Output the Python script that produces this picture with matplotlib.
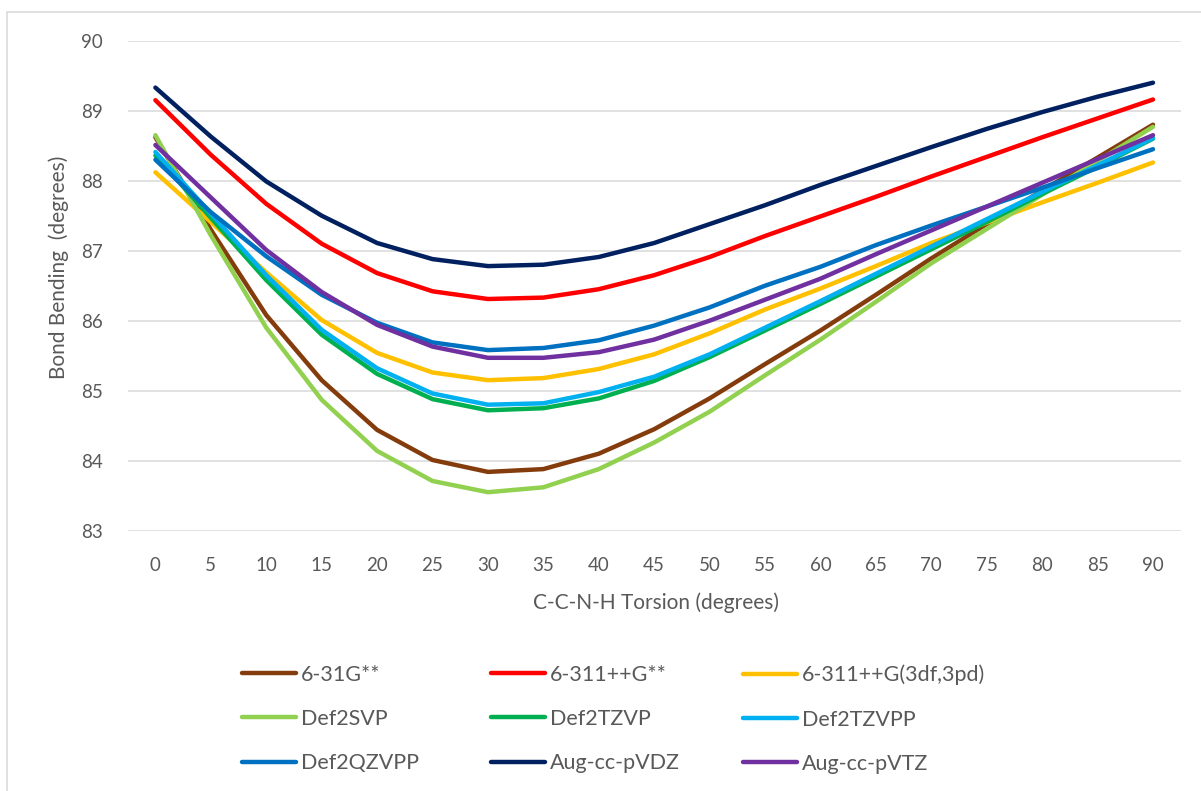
import matplotlib
matplotlib.use("Agg")
import matplotlib.pyplot as plt
from matplotlib.lines import Line2D
from matplotlib.patches import Rectangle

# Torsion angle (degrees) and bond bending angle (degrees) for each basis set
torsion = [0, 5, 10, 15, 20, 25, 30, 35, 40, 45, 50, 55, 60, 65, 70, 75, 80, 85, 90]

b_631g = [88.62, 87.30, 86.08, 85.15, 84.44, 84.01, 83.84, 83.88, 84.10, 84.45,
          84.89, 85.38, 85.86, 86.37, 86.89, 87.38, 87.86, 88.33, 88.80]
b_6311g = [89.15, 88.37, 87.67, 87.10, 86.68, 86.42, 86.31, 86.33, 86.45, 86.65,
           86.91, 87.21, 87.49, 87.77, 88.06, 88.34, 88.62, 88.89, 89.16]
b_6311g_3df = [88.12, 87.41, 86.69, 86.01, 85.54, 85.26, 85.15, 85.18, 85.31, 85.52,
               85.82, 86.16, 86.46, 86.78, 87.11, 87.40, 87.69, 87.97, 88.26]
b_def2svp = [88.65, 87.22, 85.90, 84.87, 84.14, 83.71, 83.55, 83.62, 83.88, 84.26,
             84.70, 85.22, 85.73, 86.27, 86.82, 87.31, 87.80, 88.28, 88.77]
b_def2tzvp = [88.36, 87.47, 86.58, 85.80, 85.24, 84.88, 84.72, 84.75, 84.89, 85.14,
              85.48, 85.86, 86.24, 86.63, 87.02, 87.41, 87.81, 88.20, 88.60]
b_def2tzvpp = [88.41, 87.53, 86.65, 85.87, 85.32, 84.96, 84.80, 84.82, 84.98, 85.20,
               85.52, 85.90, 86.28, 86.67, 87.06, 87.45, 87.84, 88.22, 88.61]
b_def2qzvpp = [88.30, 87.55, 86.92, 86.37, 85.97, 85.69, 85.58, 85.61, 85.72, 85.93,
               86.19, 86.50, 86.77, 87.08, 87.36, 87.63, 87.90, 88.18, 88.45]
b_augdz = [89.33, 88.63, 87.99, 87.50, 87.11, 86.88, 86.78, 86.80, 86.91, 87.11,
           87.38, 87.65, 87.94, 88.21, 88.48, 88.74, 88.98, 89.20, 89.40]
b_augtz = [88.51, 87.76, 87.01, 86.41, 85.94, 85.63, 85.47, 85.47, 85.55, 85.73,
           86.00, 86.30, 86.60, 86.95, 87.29, 87.63, 87.97, 88.31, 88.65]

series_names = ["6-31G**", "6-311++G**", "6-311++G(3df,3pd)",
                "Def2SVP", "Def2TZVP", "Def2TZVPP",
                "Def2QZVPP", "Aug-cc-pVDZ", "Aug-cc-pVTZ"]
series_values = [b_631g, b_6311g, b_6311g_3df,
                 b_def2svp, b_def2tzvp, b_def2tzvpp,
                 b_def2qzvpp, b_augdz, b_augtz]
series_colors = ["#843C0C", "#FF0000", "#FFC000",
                 "#92D050", "#00B050", "#00B0F0",
                 "#0070C0", "#002060", "#7030A0"]

y_ticks = [83, 84, 85, 86, 87, 88, 89, 90]

FONT = "Lato"
TEXT_COLOR = "#595959"
GRID_COLOR = "#D9D9D9"

W, H = 1201, 791
fig = plt.figure(figsize=(W / 100, H / 100), dpi=100)
fig.patch.set_facecolor("white")

# chart border
fig.patches.append(Rectangle((6.5 / W, -0.05), 1.2, 1.05 - 11.7 / H,
                             transform=fig.transFigure, fill=False,
                             edgecolor=GRID_COLOR, linewidth=1.1))

left, right = 127.7 / W, 1180.7 / W
bottom, top = 1 - 530.7 / H, 1 - 40.7 / H
ax = fig.add_axes([left, bottom, right - left, top - bottom])

for vals, name, col in zip(series_values, series_names, series_colors):
    ax.plot(torsion, vals, color=col, lw=3.2, solid_capstyle="round",
            solid_joinstyle="round", label=name, zorder=3)

ax.set_xlim(-2.5, 92.5)
ax.set_ylim(83, 90)
ax.set_xticks(torsion)
ax.set_xticklabels([str(t) for t in torsion])
ax.set_yticks(y_ticks)
ax.set_yticklabels([str(t) for t in y_ticks])
ax.grid(axis="y", color=GRID_COLOR, lw=1.1, zorder=0)
ax.grid(axis="x", visible=False)
for s in ax.spines.values():
    s.set_visible(False)
ax.tick_params(axis="both", length=0, labelcolor=TEXT_COLOR, labelsize=13.5)
ax.tick_params(axis="y", pad=18)
ax.tick_params(axis="x", pad=19)
for lbl in ax.get_xticklabels() + ax.get_yticklabels():
    lbl.set_fontfamily(FONT)

fig.text(656 / W, 1 - 603 / H, "C-C-N-H Torsion (degrees)", ha="center",
         va="center", fontsize=15, color=TEXT_COLOR, family=FONT)
fig.text(59 / W, 1 - 267 / H, "Bond Bending  (degrees)", ha="center",
         va="center", rotation=90, fontsize=15, color=TEXT_COLOR, family=FONT)

# legend: three columns, entries in row order
handles = [Line2D([], [], color=c, lw=3.2, solid_capstyle="round")
           for c in series_colors]
col_x = [242, 491, 743]
for ci, x0 in enumerate(col_x):
    idx = [ci, ci + 3, ci + 6]
    leg = fig.legend([handles[i] for i in idx], [series_names[i] for i in idx],
                     loc="upper left", bbox_to_anchor=(x0 / W, 1 - 664.7 / H),
                     frameon=False, handlelength=2.5, handletextpad=0.25,
                     labelspacing=1.13, borderaxespad=0, borderpad=0,
                     prop={"family": FONT, "size": 15.5})
    for t in leg.get_texts():
        t.set_color(TEXT_COLOR)

fig.savefig("out.png", dpi=100, facecolor="white")
